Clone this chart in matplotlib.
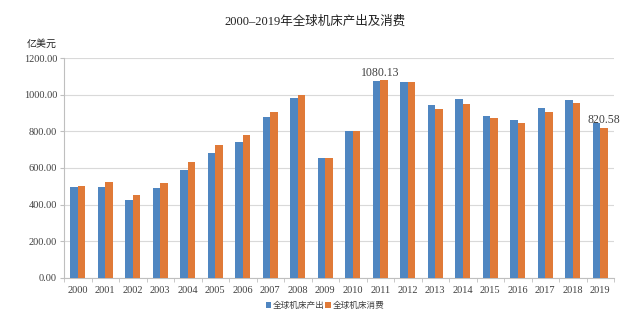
import numpy as np
import matplotlib.pyplot as plt

plt.rcParams['font.family'] = ['Liberation Serif', 'Noto Sans CJK SC']

years = [str(y) for y in range(2000, 2020)]
output = [494, 494, 427, 489, 591, 682, 742, 877, 985, 657,
          802, 1077, 1072, 943, 976, 883, 864, 930, 972, 844]
consumption = [502, 522, 450, 516, 635, 728, 779, 905, 999, 653,
               802, 1080.13, 1072, 925, 952, 872, 844, 905, 956, 820.58]
labels = ['全球机床产出', '全球机床消费']
yticks = [0, 200, 400, 600, 800, 1000, 1200]

blue = '#4F86C1'
orange = '#E07A38'

fig = plt.figure(figsize=(6.3, 3.27), dpi=100)
ax = fig.add_axes([64 / 630, 1 - 277.7 / 327, 550 / 630, 219.4 / 327])

x = np.arange(len(years))
w = 0.28
ax.bar(x - w / 2, output, w, color=blue, label=labels[0], zorder=3)
ax.bar(x + w / 2, consumption, w, color=orange, label=labels[1], zorder=3)

for i in (11, 19):
    ax.text(x[i] + w / 2 if i == 19 else x[i], consumption[i] + 8,
            f'{consumption[i]:.2f}', ha='center', va='bottom',
            fontsize=8.5, color='#404040')

ax.set_xlim(-0.5, len(years) - 0.5)
ax.set_ylim(0, 1200)
ax.set_yticks(yticks)
ax.set_yticklabels([f'{v:.2f}' for v in yticks], fontsize=7.5, color='#404040')
ax.set_xticks(x)
ax.set_xticklabels(years, fontsize=7.5, color='#404040')
ax.set_xticks(np.arange(-0.5, len(years)), minor=True)
ax.tick_params(axis='x', which='major', length=0, pad=6)
ax.tick_params(axis='x', which='minor', length=3, color='#bfbfbf')
ax.tick_params(axis='y', length=3, color='#bfbfbf', pad=2)
ax.grid(axis='y', color='#d9d9d9', lw=0.8, zorder=0)
for s in ('top', 'right'):
    ax.spines[s].set_visible(False)
for s in ('left', 'bottom'):
    ax.spines[s].set_color('#bfbfbf')

fig.text(0.5, 1 - 22 / 327, '2000–2019年全球机床产出及消费', ha='center',
         va='center', fontsize=9, color='#222222')
fig.text(27 / 630, 1 - 44 / 327, '亿美元', ha='left', va='center',
         fontsize=7.2, color='#222222')

fig.legend(loc='center', bbox_to_anchor=(325 / 630, 1 - 306 / 327), ncol=2,
           frameon=False, fontsize=6.2, handlelength=0.6, handleheight=0.6,
           handletextpad=0.2, columnspacing=0.1, labelcolor='#404040')

fig.savefig('out.png', dpi=100)
